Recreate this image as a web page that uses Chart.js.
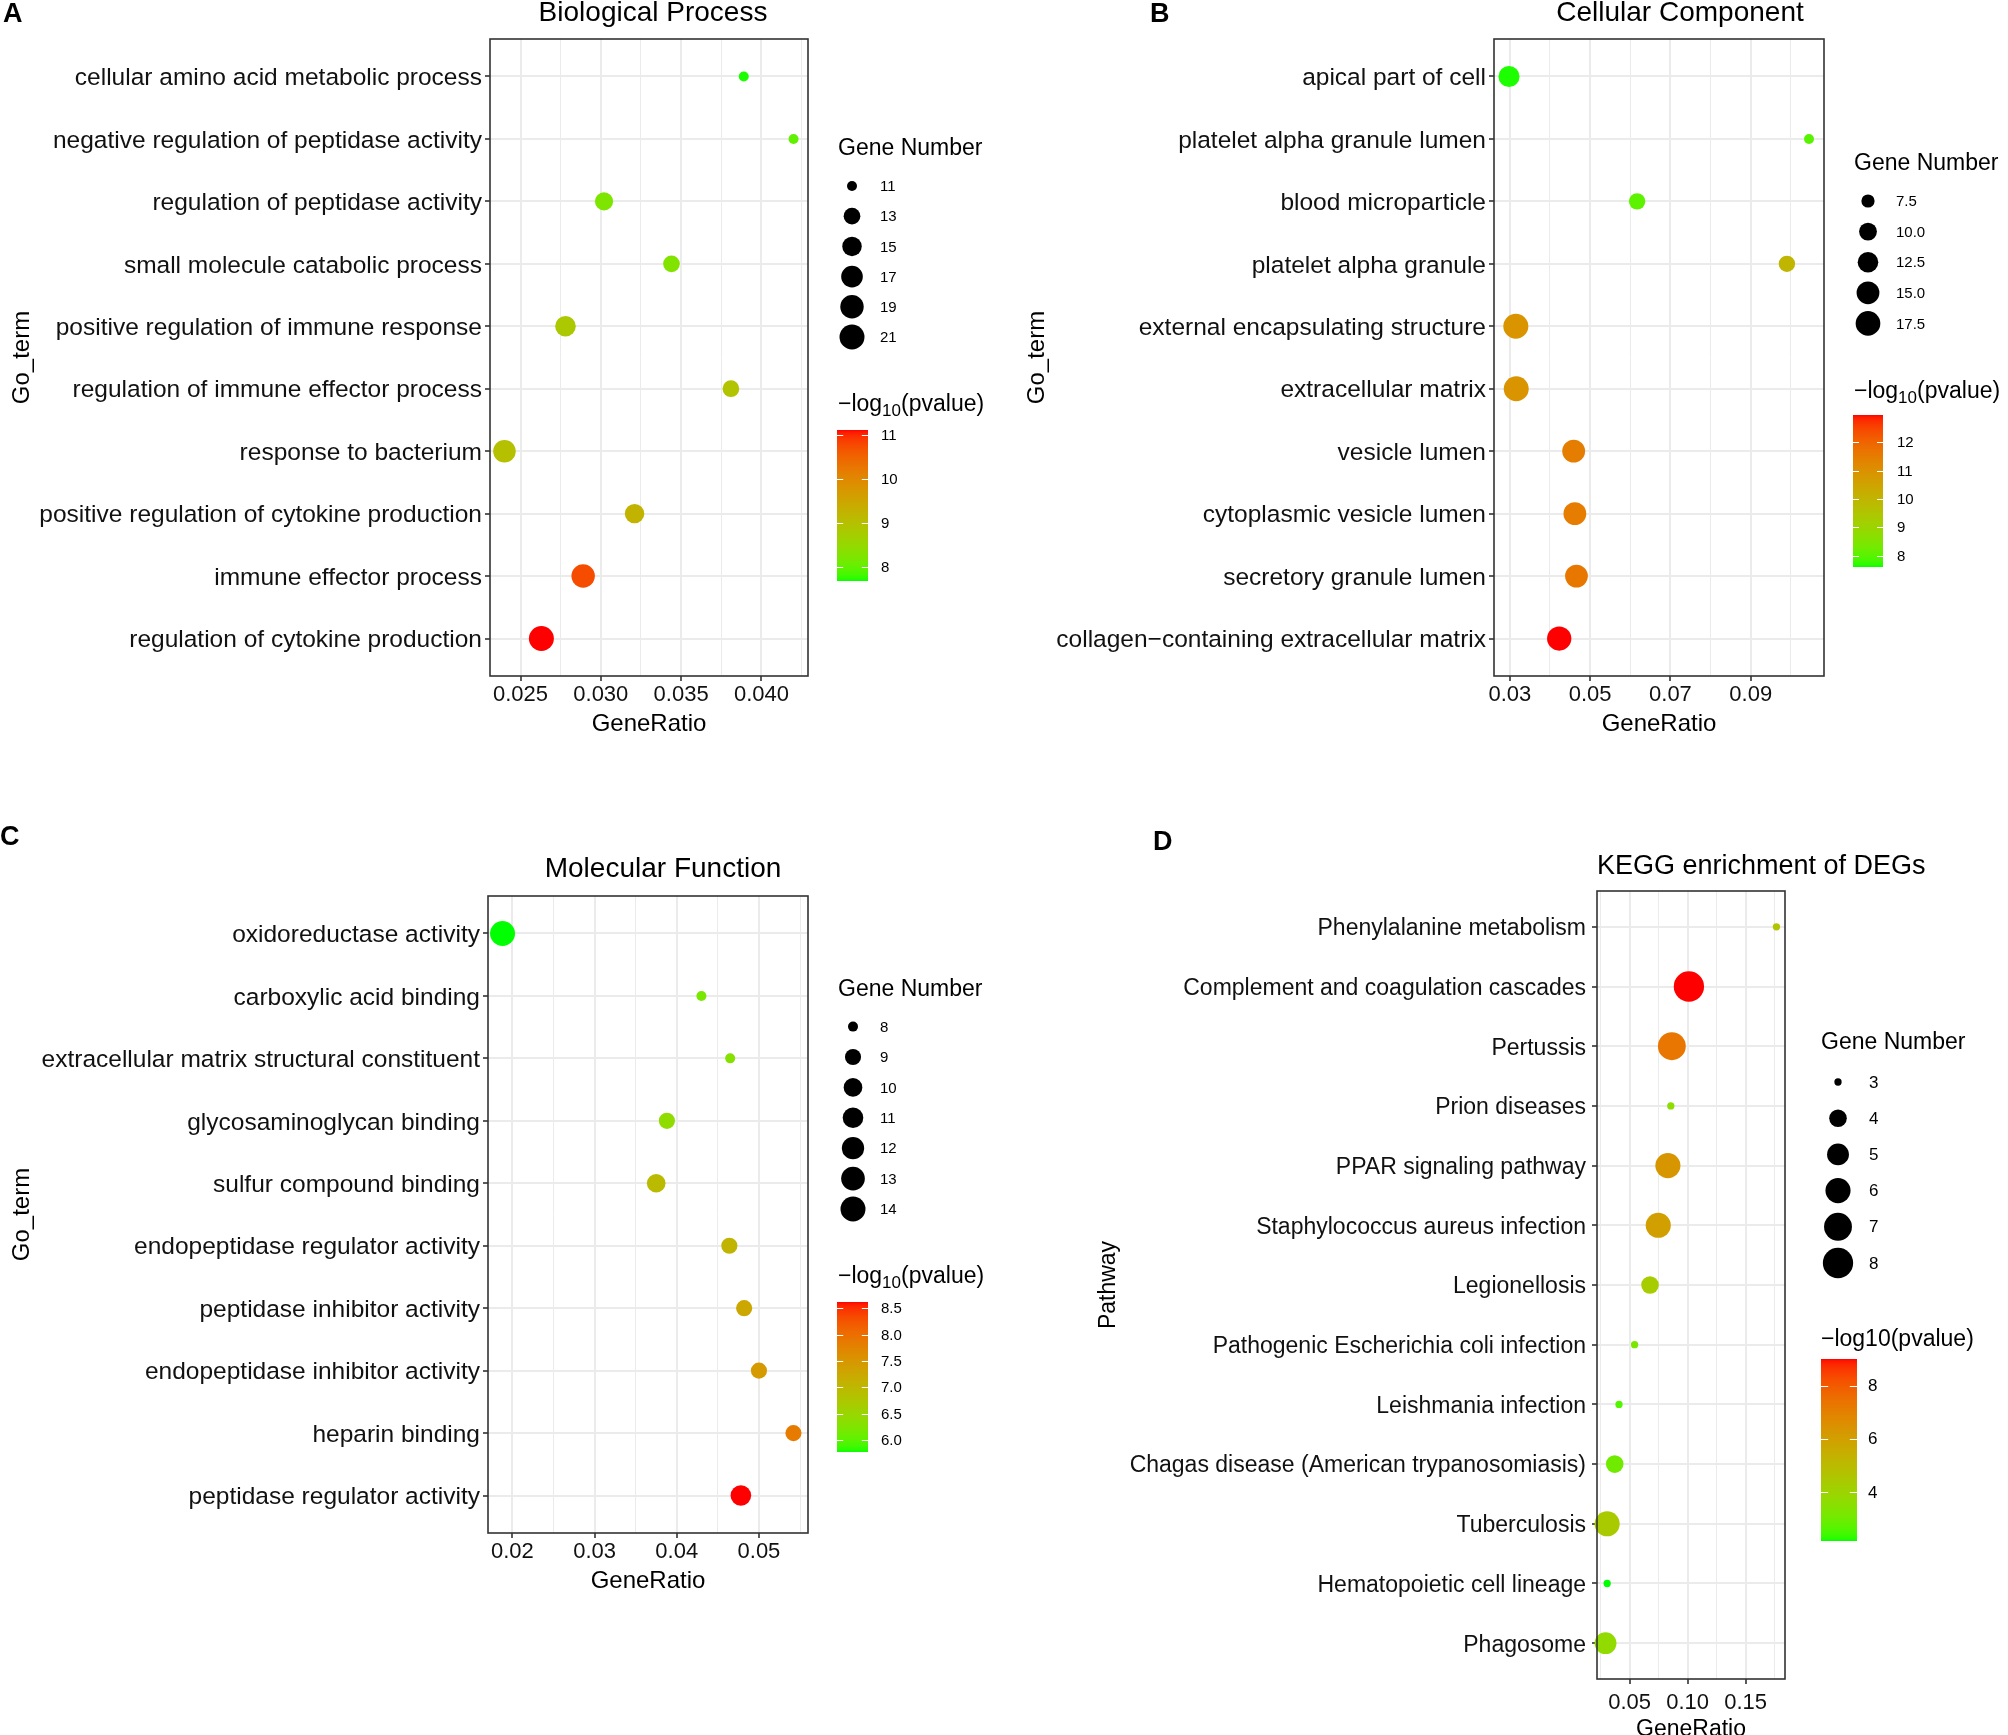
<!DOCTYPE html>
<html>
<head>
<meta charset="utf-8">
<script src="https://cdn.jsdelivr.net/npm/chart.js@4.4.0/dist/chart.umd.min.js"></script>
<style>
html, body { margin: 0; padding: 0; background: #fff; }
body { width: 2008px; height: 1735px; overflow: hidden; position: relative; }
canvas { position: absolute; left: 0; top: 0; }
</style>
</head>
<body>
<canvas id="bp" width="2008" height="1760"></canvas>
<canvas id="cc" width="2008" height="1760"></canvas>
<canvas id="mf" width="2008" height="1760"></canvas>
<canvas id="kegg" width="2008" height="1760"></canvas>
<script>
// ---- A: Biological Process
var bpTerms = ['cellular amino acid metabolic process', 'negative regulation of peptidase activity',
  'regulation of peptidase activity', 'small molecule catabolic process',
  'positive regulation of immune response', 'regulation of immune effector process',
  'response to bacterium', 'positive regulation of cytokine production',
  'immune effector process', 'regulation of cytokine production'];
var bpRatio = [0.0389, 0.0420, 0.0302, 0.0344, 0.0278, 0.0381, 0.0240, 0.0321, 0.0289, 0.0263];
var bpCount = [11, 11, 14, 13, 16, 13, 18, 15, 19, 21];
var bpLogP = [7.72, 8.0, 8.25, 8.3, 8.85, 8.95, 9.0, 9.25, 10.75, 11.11];
var bpTicks = [0.025, 0.030, 0.035, 0.040];
var bpTickLabels = ['0.025', '0.030', '0.035', '0.040'];
var bpMinor = [0.0275, 0.0325, 0.0375, 0.0425];
var bpSizeBreaks = [11, 13, 15, 17, 19, 21];
var bpSizeLabels = ['11', '13', '15', '17', '19', '21'];
var bpColorBreaks = [8, 9, 10, 11];
var bpColorLabels = ['8', '9', '10', '11'];
var bpColorLimits = [7.69, 11.11];

// ---- B: Cellular Component
var ccTerms = ['apical part of cell', 'platelet alpha granule lumen', 'blood microparticle',
  'platelet alpha granule', 'external encapsulating structure', 'extracellular matrix',
  'vesicle lumen', 'cytoplasmic vesicle lumen', 'secretory granule lumen',
  'collagen\u2212containing extracellular matrix'];
var ccRatio = [0.0298, 0.1045, 0.0617, 0.0990, 0.0315, 0.0316, 0.0459, 0.0462, 0.0466, 0.0423];
var ccCount = [13, 7, 9, 9, 18, 18, 15, 15, 15, 17];
var ccLogP = [7.65, 8.0, 8.05, 10.0, 10.9, 10.9, 11.45, 11.5, 11.6, 12.96];
var ccTicks = [0.03, 0.05, 0.07, 0.09];
var ccTickLabels = ['0.03', '0.05', '0.07', '0.09'];
var ccMinor = [0.04, 0.06, 0.08, 0.10];
var ccSizeBreaks = [7.5, 10, 12.5, 15, 17.5];
var ccSizeLabels = ['7.5', '10.0', '12.5', '15.0', '17.5'];
var ccColorBreaks = [8, 9, 10, 11, 12];
var ccColorLabels = ['8', '9', '10', '11', '12'];
var ccColorLimits = [7.6, 12.96];

// ---- C: Molecular Function
var mfTerms = ['oxidoreductase activity', 'carboxylic acid binding',
  'extracellular matrix structural constituent', 'glycosaminoglycan binding',
  'sulfur compound binding', 'endopeptidase regulator activity', 'peptidase inhibitor activity',
  'endopeptidase inhibitor activity', 'heparin binding', 'peptidase regulator activity'];
var mfRatio = [0.0188, 0.0430, 0.0465, 0.0388, 0.0375, 0.0464, 0.0482, 0.0500, 0.0542, 0.0478];
var mfCount = [14, 8, 8, 9, 10, 9, 9, 9, 9, 11];
var mfLogP = [5.77, 6.2, 6.3, 6.4, 6.95, 7.05, 7.25, 7.45, 7.85, 8.62];
var mfTicks = [0.02, 0.03, 0.04, 0.05];
var mfTickLabels = ['0.02', '0.03', '0.04', '0.05'];
var mfMinor = [0.025, 0.035, 0.045, 0.055];
var mfSizeBreaks = [8, 9, 10, 11, 12, 13, 14];
var mfSizeLabels = ['8', '9', '10', '11', '12', '13', '14'];
var mfColorBreaks = [6.0, 6.5, 7.0, 7.5, 8.0, 8.5];
var mfColorLabels = ['6.0', '6.5', '7.0', '7.5', '8.0', '8.5'];
var mfColorLimits = [5.77, 8.62];

// ---- D: KEGG
var keggTerms = ['Phenylalanine metabolism', 'Complement and coagulation cascades', 'Pertussis',
  'Prion diseases', 'PPAR signaling pathway', 'Staphylococcus aureus infection', 'Legionellosis',
  'Pathogenic Escherichia coli infection', 'Leishmania infection',
  'Chagas disease (American trypanosomiasis)', 'Tuberculosis', 'Hematopoietic cell lineage',
  'Phagosome'];
var keggRatio = [0.1765, 0.1011, 0.0864, 0.0855, 0.0830, 0.0747, 0.0676, 0.0543, 0.0409, 0.0372, 0.0307, 0.0307, 0.0293];
var keggCount = [3, 8, 7, 3, 6, 6, 4, 3, 3, 4, 6, 3, 5];
var keggLogP = [4.6, 9.0, 7.3, 3.6, 6.3, 6.0, 4.3, 3.2, 2.6, 3.0, 4.4, 2.15, 3.7];
var keggTicks = [0.05, 0.10, 0.15];
var keggTickLabels = ['0.05', '0.10', '0.15'];
var keggMinor = [0.025, 0.075, 0.125, 0.175];
var keggSizeBreaks = [3, 4, 5, 6, 7, 8];
var keggSizeLabels = ['3', '4', '5', '6', '7', '8'];
var keggColorBreaks = [4, 6, 8];
var keggColorLabels = ['4', '6', '8'];
var keggColorLimits = [2.15, 9.0];

var FONT = '"Liberation Sans", Arial, Helvetica, sans-serif';
Chart.defaults.font.family = FONT;
Chart.defaults.color = '#000';

// green -> red, mixed in Lab like ggplot's gradient
function hexToLab(hex) {
  var c = [1, 3, 5].map(function (i) { return parseInt(hex.substr(i, 2), 16) / 255; })
    .map(function (v) { return v <= 0.04045 ? v / 12.92 : Math.pow((v + 0.055) / 1.055, 2.4); });
  var X = (c[0] * 0.4124 + c[1] * 0.3576 + c[2] * 0.1805) / 0.95047;
  var Y = c[0] * 0.2126 + c[1] * 0.7152 + c[2] * 0.0722;
  var Z = (c[0] * 0.0193 + c[1] * 0.1192 + c[2] * 0.9505) / 1.08883;
  var f = function (t) { return t > 0.008856 ? Math.cbrt(t) : 7.787 * t + 16 / 116; };
  return [116 * f(Y) - 16, 500 * (f(X) - f(Y)), 200 * (f(Y) - f(Z))];
}
function labToCss(L, a, b) {
  var fy = (L + 16) / 116, fx = fy + a / 500, fz = fy - b / 200;
  var inv = function (t) { return t * t * t > 0.008856 ? t * t * t : (t - 16 / 116) / 7.787; };
  var X = inv(fx) * 0.95047, Y = inv(fy), Z = inv(fz) * 1.08883;
  var r = X * 3.2406 - Y * 1.5372 - Z * 0.4986;
  var g = -X * 0.9689 + Y * 1.8758 + Z * 0.0415;
  var bl = X * 0.0557 - Y * 0.2040 + Z * 1.0570;
  var gam = function (v) {
    v = v <= 0.0031308 ? 12.92 * v : 1.055 * Math.pow(v, 1 / 2.4) - 0.055;
    return Math.round(255 * Math.min(1, Math.max(0, v)));
  };
  return 'rgb(' + gam(r) + ',' + gam(g) + ',' + gam(bl) + ')';
}
var LOW = hexToLab('#00FF00'), HIGH = hexToLab('#FF0000');
function gradColor(v, lim) {
  var t = Math.min(1, Math.max(0, (v - lim[0]) / (lim[1] - lim[0])));
  return labToCss(LOW[0] + (HIGH[0] - LOW[0]) * t, LOW[1] + (HIGH[1] - LOW[1]) * t, LOW[2] + (HIGH[2] - LOW[2]) * t);
}

function decorPlugin(d, L, diam) {
  return {
    id: 'decor',
    afterDraw: function (chart) {
      var ctx = chart.ctx, a = chart.chartArea, g = L.legend;
      ctx.save();
      ctx.strokeStyle = '#333333';
      ctx.lineWidth = 1.6;
      ctx.strokeRect(a.left, a.top, a.right - a.left, a.bottom - a.top);

      ctx.fillStyle = '#000';
      ctx.textBaseline = 'middle';
      ctx.textAlign = 'left';
      ctx.font = 'bold 27px ' + FONT;
      ctx.fillText(L.letter, L.letterX, L.letterY);
      ctx.font = L.titleSize + 'px ' + FONT;
      ctx.textAlign = L.titleAlign;
      ctx.fillText(L.title, L.titleX, L.titleY);

      // size legend
      ctx.textAlign = 'left';
      ctx.font = g.titleSize + 'px ' + FONT;
      ctx.fillText('Gene Number', g.x, g.sizeTitleY);
      ctx.font = g.labelSize + 'px ' + FONT;
      d.sizeBreaks.forEach(function (b, k) {
        var y = g.itemY0 + k * g.itemStep;
        ctx.beginPath();
        ctx.arc(g.dotX, y, diam(b) / 2, 0, Math.PI * 2);
        ctx.fill();
        ctx.fillText(d.sizeLabels[k], g.labelX, y + 1);
      });

      // colour legend title
      ctx.font = g.titleSize + 'px ' + FONT;
      if (g.subscript) {
        var x = g.x;
        ctx.fillText('\u2212log', x, g.colorTitleY);
        x += ctx.measureText('\u2212log').width;
        ctx.font = Math.round(g.titleSize * 0.72) + 'px ' + FONT;
        ctx.fillText('10', x, g.colorTitleY + 6);
        x += ctx.measureText('10').width;
        ctx.font = g.titleSize + 'px ' + FONT;
        ctx.fillText('(pvalue)', x, g.colorTitleY);
      } else {
        ctx.fillText('\u2212log10(pvalue)', g.x, g.colorTitleY);
      }

      // colour bar
      var lim = d.colorLimits, h = g.barBottom - g.barTop;
      var toY = function (v) { return g.barBottom - (v - lim[0]) / (lim[1] - lim[0]) * h; };
      for (var yy = g.barTop; yy < g.barBottom; yy++) {
        ctx.fillStyle = gradColor(lim[1] - (yy + 0.5 - g.barTop) / h * (lim[1] - lim[0]), lim);
        ctx.fillRect(g.barX, yy, g.barW, 1);
      }
      ctx.strokeStyle = '#ffffff';
      ctx.lineWidth = 1;
      ctx.fillStyle = '#000';
      ctx.font = g.labelSize + 'px ' + FONT;
      d.colorBreaks.forEach(function (b, k) {
        var y = Math.round(toY(b)) + 0.5, tl = g.barW / 5;
        ctx.beginPath();
        ctx.moveTo(g.barX, y); ctx.lineTo(g.barX + tl, y);
        ctx.moveTo(g.barX + g.barW - tl, y); ctx.lineTo(g.barX + g.barW, y);
        ctx.stroke();
        ctx.fillText(d.colorLabels[k], g.colorLabelX, toY(b) + 1);
      });
      ctx.restore();
    }
  };
}

function buildPanel(id, d, L) {
  var sLo = Math.min.apply(null, d.count), sHi = Math.max.apply(null, d.count);
  var diam = function (v) {
    return L.dotRange[0] + (L.dotRange[1] - L.dotRange[0]) * Math.sqrt(Math.max(0, (v - sLo) / (sHi - sLo)));
  };
  var xLo = Math.min.apply(null, d.ratio), xHi = Math.max.apply(null, d.ratio);
  var pad = (xHi - xLo) * 0.05;
  var n = d.terms.length;
  var points = d.terms.map(function (t, i) { return { x: d.ratio[i], y: i, r: diam(d.count[i]) / 2 }; });
  var colors = d.logp.map(function (v) { return gradColor(v, d.colorLimits); });
  var allTicks = d.ticks.concat(d.minor).sort(function (p, q) { return p - q; });

  return new Chart(document.getElementById(id), {
    type: 'bubble',
    data: { datasets: [{ data: points, backgroundColor: colors, borderWidth: 0, hoverRadius: 0, clip: false }] },
    options: {
      responsive: false,
      animation: false,
      devicePixelRatio: 1,
      events: [],
      layout: { padding: { left: L.panelLeft, right: 2008 - L.plotRight, top: L.plotTop, bottom: 1760 - L.plotBottom - L.xh } },
      plugins: { legend: { display: false }, tooltip: { enabled: false } },
      scales: {
        x: {
          type: 'linear', min: xLo - pad, max: xHi + pad,
          afterBuildTicks: function (s) {
            s.ticks = allTicks.map(function (v) { return { value: v, isMinor: d.ticks.indexOf(v) < 0 }; });
          },
          afterFit: function (s) { s.height = L.xh; },
          ticks: {
            autoSkip: false, maxRotation: 0, padding: L.xTickPad, color: '#111',
            font: { size: L.xTickFont, lineHeight: 1 },
            callback: function (v) { var k = d.ticks.indexOf(v); return k >= 0 ? d.tickLabels[k] : ''; }
          },
          grid: {
            color: '#EBEBEB', tickLength: 5, tickWidth: 1.6,
            lineWidth: function (c) { return c.tick && c.tick.isMinor ? 1 : 2; },
            tickColor: function (c) { return c.tick && c.tick.isMinor ? 'rgba(0,0,0,0)' : '#333333'; }
          },
          border: { display: false },
          title: { display: true, text: 'GeneRatio', color: '#000', font: { size: L.xTitleSize }, padding: { top: 0, bottom: L.xTitlePad } }
        },
        y: {
          type: 'linear', min: -0.6, max: n - 0.4, reverse: true,
          afterBuildTicks: function (s) { s.ticks = d.terms.map(function (t, i) { return { value: i }; }); },
          afterFit: function (s) { s.width = L.plotLeft - L.panelLeft; },
          ticks: {
            autoSkip: false, padding: L.yTickPad, color: '#111', labelOffset: 2,
            font: { size: L.yTickFont, lineHeight: 1 },
            callback: function (v) { return d.terms[v]; }
          },
          grid: { color: '#EBEBEB', lineWidth: 2, tickLength: 5, tickWidth: 1.6, tickColor: '#333333' },
          border: { display: false },
          title: { display: true, text: L.yTitle, color: '#000', font: { size: L.yTitleSize }, padding: { top: L.yTitlePad, bottom: 0 } }
        }
      }
    },
    plugins: [decorPlugin(d, L, diam)]
  });
}

buildPanel('bp', {
  terms: bpTerms, ratio: bpRatio, count: bpCount, logp: bpLogP, ticks: bpTicks, tickLabels: bpTickLabels,
  minor: bpMinor, sizeBreaks: bpSizeBreaks, sizeLabels: bpSizeLabels, colorBreaks: bpColorBreaks,
  colorLabels: bpColorLabels, colorLimits: bpColorLimits
}, {
  panelLeft: 0, plotLeft: 490, plotRight: 808, plotTop: 39, plotBottom: 676, xh: 84,
  yTickFont: 24.5, xTickFont: 22, xTickPad: 3, yTickPad: 3, yTitle: 'Go_term', yTitleSize: 24, yTitlePad: 7.6,
  xTitleSize: 24, xTitlePad: 21.6, dotRange: [10, 25],
  title: 'Biological Process', titleSize: 28, titleX: 653, titleY: 13, titleAlign: 'center',
  letter: 'A', letterX: 3, letterY: 15,
  legend: { x: 838, sizeTitleY: 149, dotX: 852, labelX: 880, itemY0: 186, itemStep: 30.2, labelSize: 15, titleSize: 23,
    colorTitleY: 405, barX: 837, barW: 31, barTop: 430, barBottom: 581, colorLabelX: 881, subscript: true }
});

buildPanel('cc', {
  terms: ccTerms, ratio: ccRatio, count: ccCount, logp: ccLogP, ticks: ccTicks, tickLabels: ccTickLabels,
  minor: ccMinor, sizeBreaks: ccSizeBreaks, sizeLabels: ccSizeLabels, colorBreaks: ccColorBreaks,
  colorLabels: ccColorLabels, colorLimits: ccColorLimits
}, {
  panelLeft: 1004, plotLeft: 1494, plotRight: 1824, plotTop: 39, plotBottom: 676, xh: 84,
  yTickFont: 24.5, xTickFont: 22, xTickPad: 3, yTickPad: 3, yTitle: 'Go_term', yTitleSize: 24, yTitlePad: 18.6,
  xTitleSize: 24, xTitlePad: 21.6, dotRange: [10, 25],
  title: 'Cellular Component', titleSize: 28, titleX: 1680, titleY: 13, titleAlign: 'center',
  letter: 'B', letterX: 1150, letterY: 15,
  legend: { x: 1854, sizeTitleY: 164, dotX: 1868, labelX: 1896, itemY0: 201, itemStep: 30.6, labelSize: 15, titleSize: 23,
    colorTitleY: 392, barX: 1853, barW: 30, barTop: 415, barBottom: 567, colorLabelX: 1897, subscript: true }
});

buildPanel('mf', {
  terms: mfTerms, ratio: mfRatio, count: mfCount, logp: mfLogP, ticks: mfTicks, tickLabels: mfTickLabels,
  minor: mfMinor, sizeBreaks: mfSizeBreaks, sizeLabels: mfSizeLabels, colorBreaks: mfColorBreaks,
  colorLabels: mfColorLabels, colorLimits: mfColorLimits
}, {
  panelLeft: 0, plotLeft: 488, plotRight: 808, plotTop: 896, plotBottom: 1533, xh: 84,
  yTickFont: 24.5, xTickFont: 22, xTickPad: 3, yTickPad: 3, yTitle: 'Go_term', yTitleSize: 24, yTitlePad: 7.6,
  xTitleSize: 24, xTitlePad: 21.6, dotRange: [10, 25],
  title: 'Molecular Function', titleSize: 28, titleX: 663, titleY: 869, titleAlign: 'center',
  letter: 'C', letterX: 0, letterY: 838,
  legend: { x: 838, sizeTitleY: 990, dotX: 853, labelX: 880, itemY0: 1026.6, itemStep: 30.4, labelSize: 15, titleSize: 23,
    colorTitleY: 1277, barX: 837, barW: 31, barTop: 1302, barBottom: 1452, colorLabelX: 881, subscript: true }
});

buildPanel('kegg', {
  terms: keggTerms, ratio: keggRatio, count: keggCount, logp: keggLogP, ticks: keggTicks, tickLabels: keggTickLabels,
  minor: keggMinor, sizeBreaks: keggSizeBreaks, sizeLabels: keggSizeLabels, colorBreaks: keggColorBreaks,
  colorLabels: keggColorLabels, colorLimits: keggColorLimits
}, {
  panelLeft: 1004, plotLeft: 1597, plotRight: 1785, plotTop: 891, plotBottom: 1679, xh: 76,
  yTickFont: 23, xTickFont: 22, xTickPad: 8, yTickPad: 6, yTitle: 'Pathway', yTitleSize: 23, yTitlePad: 91.2,
  xTitleSize: 23, xTitlePad: 12, dotRange: [7.3, 30.3],
  title: 'KEGG enrichment of DEGs', titleSize: 27, titleX: 1597, titleY: 867, titleAlign: 'left',
  letter: 'D', letterX: 1153, letterY: 843,
  legend: { x: 1821, sizeTitleY: 1043, dotX: 1838, labelX: 1869, itemY0: 1082, itemStep: 36.2, labelSize: 17, titleSize: 23,
    colorTitleY: 1340, barX: 1821, barW: 36, barTop: 1359, barBottom: 1541, colorLabelX: 1868, subscript: false }
});
</script>
</body>
</html>
